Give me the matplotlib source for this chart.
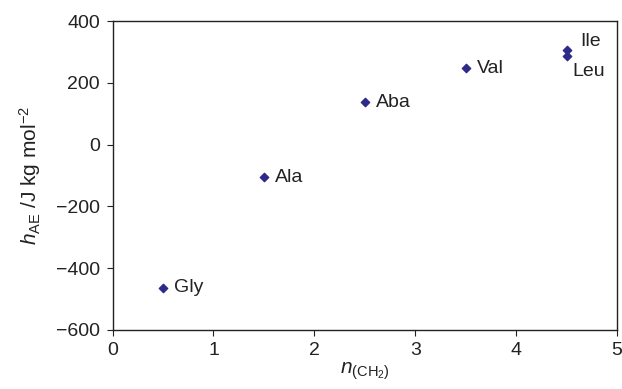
import matplotlib
matplotlib.use('Agg')
import matplotlib.pyplot as plt

plt.rcParams['font.family'] = ['Liberation Sans', 'DejaVu Sans']
plt.rcParams['mathtext.fontset'] = 'custom'
plt.rcParams['mathtext.rm'] = 'Liberation Sans'
plt.rcParams['mathtext.it'] = 'Liberation Sans:italic'

# amino acid data
names = ['Gly', 'Ala', 'Aba', 'Val', 'Ile', 'Leu']
n_ch2 = [0.5, 1.5, 2.5, 3.5, 4.5, 4.5]
h_ae = [-464, -106, 137, 247, 307, 286]

fig = plt.figure(figsize=(6.22, 3.89), dpi=100)
ax = fig.add_axes([0.181, 0.152, 0.811, 0.794])

ax.scatter(n_ch2, h_ae, marker='D', s=18, color='#2e2a8a', zorder=3)

# labels next to the points
for name, x, y in zip(names, n_ch2, h_ae):
    if name == 'Ile':
        off = (10, 6)
    elif name == 'Leu':
        off = (4, -11)
    else:
        off = (8, 0)
    ax.annotate(name, (x, y), xytext=off, textcoords='offset points',
                va='center', ha='left', fontsize=14, color='#222222')

ax.set_xlim(0, 5)
ax.set_ylim(-600, 400)
ax.set_xticks([0, 1, 2, 3, 4, 5])
ax.set_yticks([-600, -400, -200, 0, 200, 400])
ax.set_yticklabels(['\u2212600', '\u2212400', '\u2212200', '0', '200', '400'])
ax.tick_params(labelsize=14, direction='out', length=4, pad=5, color='#222222',
               labelcolor='#222222')
for sp in ax.spines.values():
    sp.set_color('#222222')
    sp.set_linewidth(1)

ax.set_xlabel(r'$n_{(\mathrm{CH_2})}$', fontsize=15, labelpad=1, color='#222222')
ax.set_ylabel(r'$h_{\mathrm{AE}}$ /J kg mol$^{-2}$', fontsize=15, labelpad=9,
              color='#222222')

fig.savefig('out.png', dpi=100)
